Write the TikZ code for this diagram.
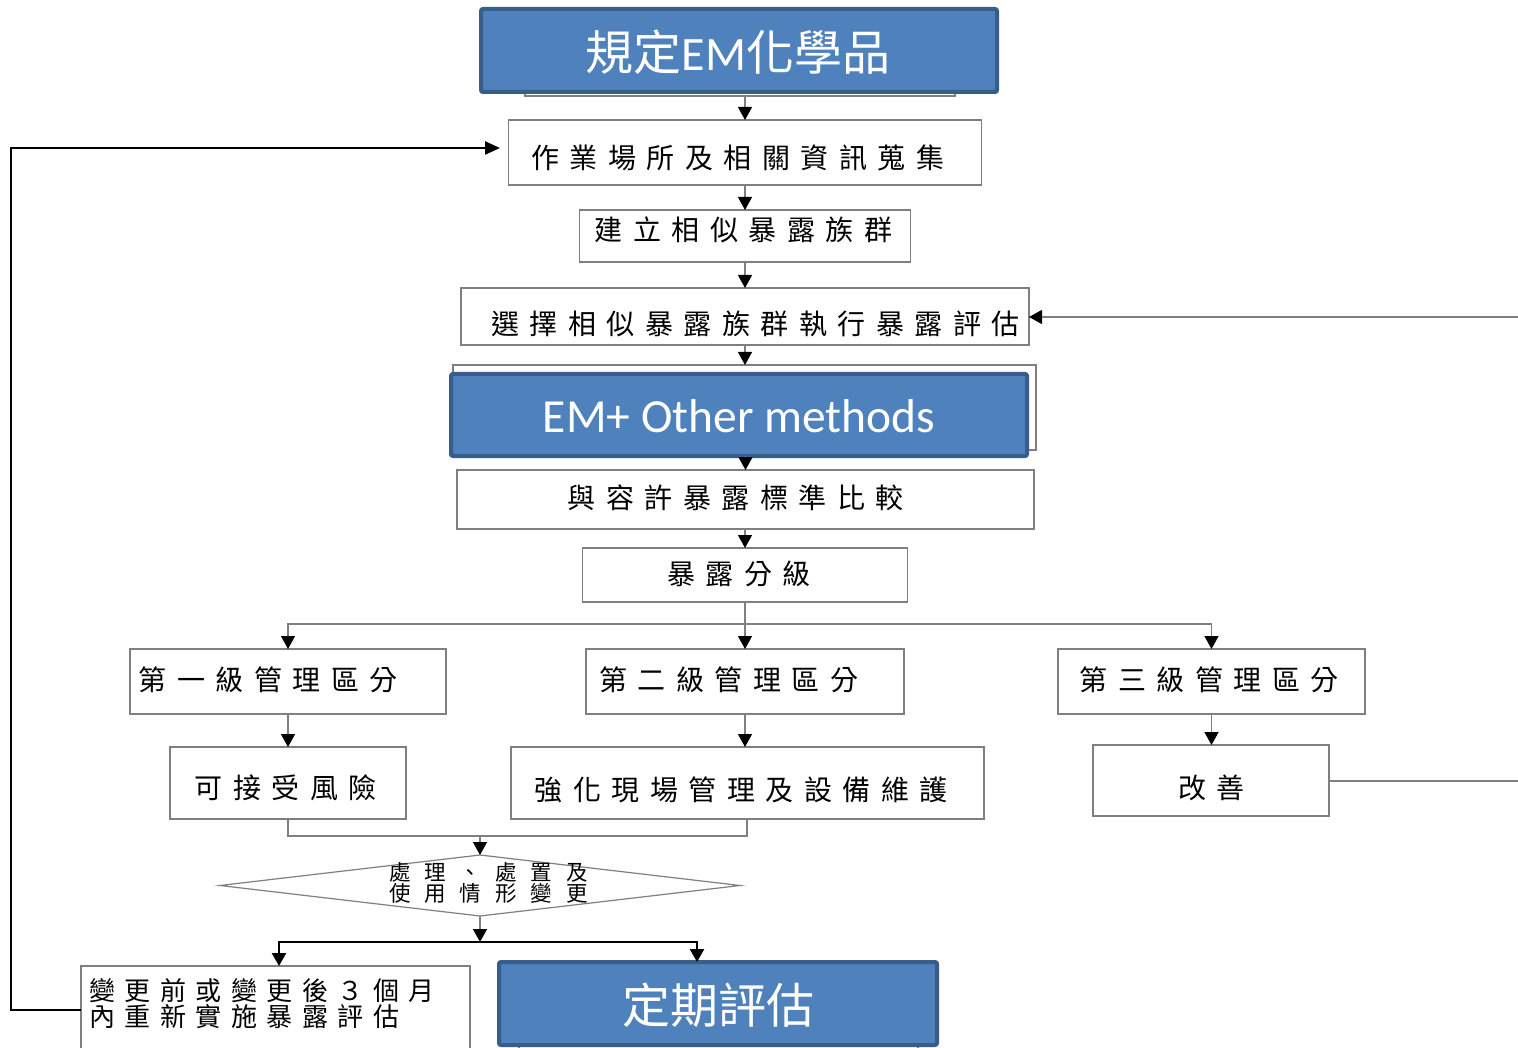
\documentclass[tikz,border=0pt]{standalone}
\usepackage{fontspec}
\setmainfont{Noto Sans CJK TC}
\newfontfamily\cjk{Noto Sans CJK TC}
\newfontfamily\carlito{Carlito}
\usetikzlibrary{arrows.meta,shapes.geometric}
\definecolor{emblue}{HTML}{4F81BD}
\definecolor{emborder}{HTML}{385D8A}
\definecolor{lgray}{HTML}{7F7F7F}
\newcommand\kfont{\cjk\fontsize{28}{32}\selectfont\spaceskip=10.5pt\relax}
\newcommand\sfontx{\cjk\fontsize{26}{28}\selectfont\spaceskip=9.5pt\relax}
\newcommand\dfontx{\cjk\fontsize{21.5}{23}\selectfont\spaceskip=14pt\relax}
\newcommand\bfontx{\cjk\fontsize{48}{52}\selectfont}
\newcommand\efontx{\carlito\fontsize{47.5}{52}\selectfont}
\begin{document}
\begin{tikzpicture}[x=1pt,y=-1pt,
 box/.style={draw=lgray,line width=1.2pt,fill=white,inner sep=0pt,outer sep=0pt},
 bluebox/.style={draw=emborder,line width=4pt,fill=emblue,inner sep=0pt,outer sep=0pt,rounded corners=2pt},
 ktxt/.style={font=\kfont,inner sep=0pt},
 stxt/.style={font=\sfontx,inner sep=0pt},
 dtxt/.style={font=\dfontx,inner sep=0pt},
 btxt/.style={text=white,inner sep=0pt,font=\bfontx},
 tip/.style={-{Triangle[length=13pt,width=14pt,color=black]}},
 conn/.style={draw=lgray,line width=1.3pt,tip},
 plain/.style={draw=lgray,line width=1.3pt},
 heavy/.style={draw=black,line width=2.5pt}
]
\clip (0,0) rectangle (1518,1048);
\fill[white] (0,0) rectangle (1518,1048);

% background thin boxes behind the blue boxes
\node[box,minimum width=430,minimum height=76] (Aback) at (740,58) {};
\node[box,minimum width=583,minimum height=85] (Eback) at (744.5,407.5) {};
\node[box,minimum width=399,minimum height=100] (Oback) at (718.5,1015) {};

% blue boxes
\node[bluebox,minimum width=516,minimum height=83] (A) at (739,50.5) {};
\node[btxt] (At) at (738,52) {規定{\carlito EM}化學品};
\node[bluebox,minimum width=576,minimum height=82] (E) at (739,415) {};
\node[btxt,font=\efontx] (Et) at (739,416) {EM+ Other methods};
\node[bluebox,minimum width=438,minimum height=83] (O) at (718,1003.5) {};
\node[btxt] (Ot) at (718,1005) {定期評估};

% white boxes
\node[box,minimum width=473,minimum height=65] (B) at (745,152.5) {};
\node[ktxt] (Bt) at (737.5,158) {作 業 場 所 及 相 關 資 訊 蒐 集};
\node[box,minimum width=331,minimum height=52] (C) at (745,236) {};
\node[ktxt] (Ct) at (743.5,230) {建 立 相 似 暴 露 族 群};
\node[box,minimum width=568,minimum height=57] (D) at (745,316.5) {};
\node[ktxt] (Dt) at (755.5,324) {選 擇 相 似 暴 露 族 群 執 行 暴 露 評 估};
\node[box,minimum width=577,minimum height=59] (F) at (745.5,499.5) {};
\node[ktxt] (Ft) at (735.5,498) {與 容 許 暴 露 標 準 比 較};
\node[box,minimum width=325,minimum height=54] (G) at (745,575) {};
\node[ktxt] (Gt) at (739,574) {暴 露 分 級};
\node[box,minimum width=316,minimum height=65] (H) at (288,681.5) {};
\node[ktxt] (Ht) at (268,680) {第 一 級 管 理 區 分};
\node[box,minimum width=318,minimum height=65] (I) at (745,681.5) {};
\node[ktxt] (It) at (728.5,680) {第 二 級 管 理 區 分};
\node[box,minimum width=307,minimum height=65] (J) at (1211.5,681.5) {};
\node[ktxt] (Jt) at (1209,680) {第 三 級 管 理 區 分};
\node[box,minimum width=236,minimum height=72] (K) at (288,783) {};
\node[ktxt] (Kt) at (285.5,788) {可 接 受 風 險};
\node[box,minimum width=473,minimum height=72] (L) at (747.5,783) {};
\node[ktxt] (Lt) at (741,790) {強 化 現 場 管 理 及 設 備 維 護};
\node[box,minimum width=236,minimum height=71] (M) at (1211,780.5) {};
\node[ktxt] (Mt) at (1211.5,788) {改 善};

% decision
\node[draw=lgray,line width=1.2pt,fill=white,diamond,aspect=8.5,minimum width=520,minimum height=61,inner sep=0pt,outer sep=0pt] (Dm) at (480,885.5) {};
\node[dtxt] (Dm1) at (488.5,872) {處 理 、 處 置 及};
\node[dtxt] (Dm2) at (488.5,893) {使 用 情 形 變 更};

% bottom-left box
\node[box,minimum width=389,minimum height=88] (N) at (275.5,1010) {};
\node[stxt,anchor=west] (Nt1) at (89,991) {變 更 前 或 變 更 後 ３ 個 月};
\node[stxt,anchor=west] (Nt2) at (89,1017) {內 重 新 實 施 暴 露 評 估};

% connectors (main column)
\draw[conn] (B.north |- Aback.south) -- (B.north);
\draw[conn] (B.south) -- (C.north);
\draw[conn] (C.south) -- (D.north);
\draw[conn] (D.south) -- (D.south |- Eback.north);
\draw[conn] (F.north |- E.south) -- (F.north);
\draw[conn] (G.north |- F.south) -- (G.north);
\draw[conn] (G.south) -- (I.north);
\coordinate (split) at (745,624);
\draw[conn] (split) -| (H.north);
\draw[conn] (split) -| (J.north);
\draw[conn] (H.south) -- (K.north);
\draw[conn] (I.south) -- (I.south |- L.north);
\draw[conn] (J.south) -- (J.south |- M.north);

% join to decision
\coordinate (join) at (480,836);
\draw[plain] (K.south) |- (747,836) -- (747,819);
\draw[conn] (join) -- (Dm.north);
\coordinate (split2) at (480,942);
\draw[conn] (Dm.south) -- (split2);
\draw[heavy] (279,942) -- (697,942);
\draw[heavy,tip] (279,941) -- (279,966);
\draw[heavy,tip] (697,941) -- (697,962);

% feedback loop on the left
\coordinate (loopend) at (500,148);
\draw[heavy,-{Triangle[length=15pt,width=13pt]}] (N.west) -| (11,148) -- (loopend);

% lines leaving to the right
\coordinate (rin) at (1518,317);
\coordinate (rout) at (1518,781);
\draw[conn] (rin) -- (D.east |- rin);
\draw[plain] (M.east |- rout) -- (rout);
\end{tikzpicture}
\end{document}
